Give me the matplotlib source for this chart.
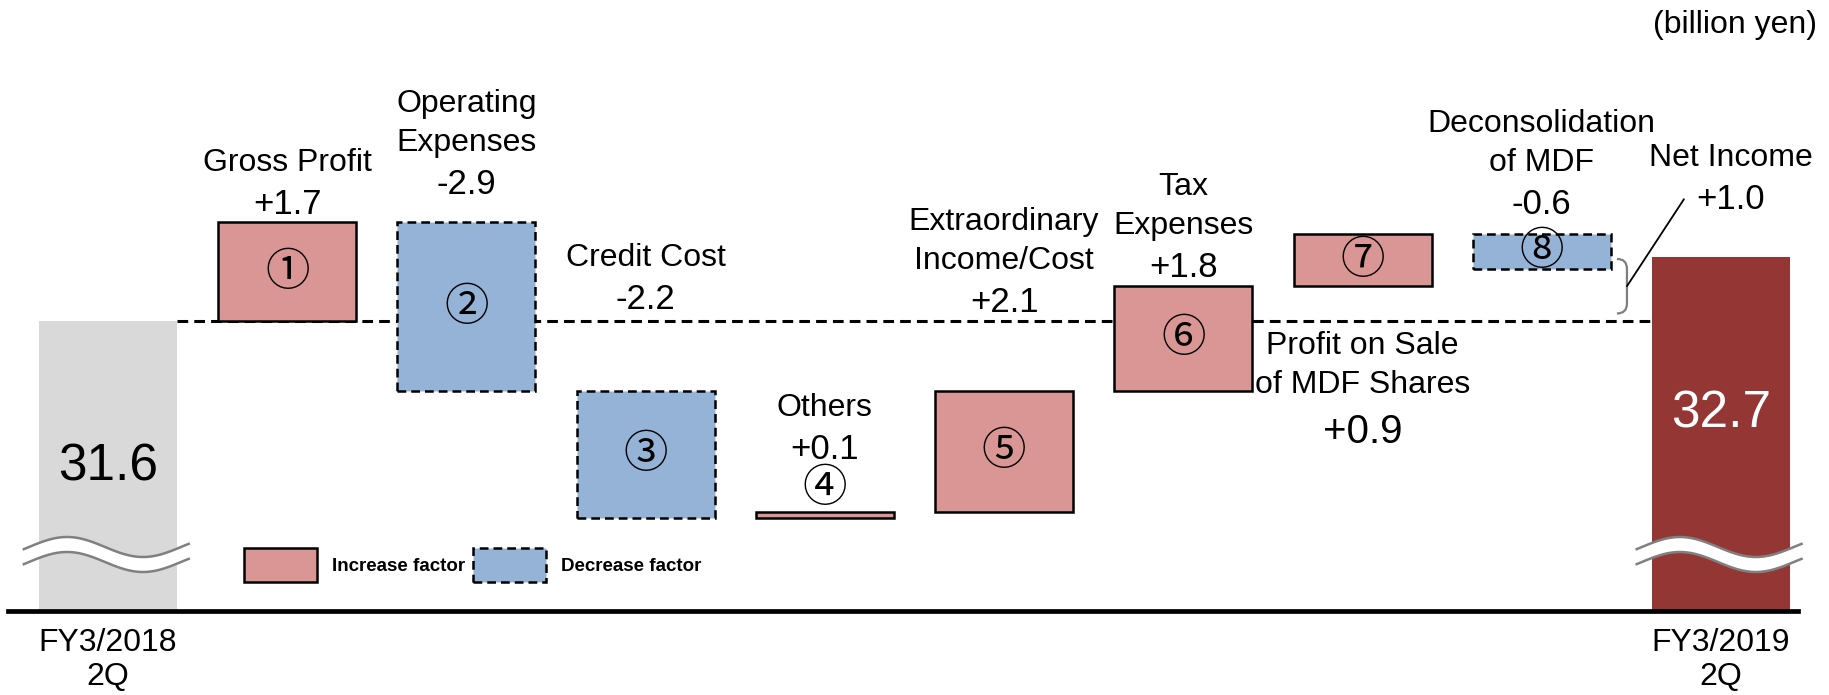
import numpy as np
import matplotlib
matplotlib.use("Agg")
import matplotlib.pyplot as plt
from matplotlib.patches import Patch, PathPatch
from matplotlib.path import Path

# data (billion yen)
start_label = "FY3/2018\n2Q"
end_label = "FY3/2019\n2Q"
start_value = 31.6
end_value = 32.7
factor_names = ["Gross Profit", "Operating\nExpenses", "Credit Cost", "Others",
                "Extraordinary\nIncome/Cost", "Tax\nExpenses",
                "Profit on Sale\nof MDF Shares", "Deconsolidation\nof MDF"]
factor_changes = [1.7, -2.9, -2.2, 0.1, 2.1, 1.8, 0.9, -0.6]
factor_marks = ["①", "②", "③", "④", "⑤", "⑥", "⑦", "⑧"]
net_income_change = 1.0
legend_labels = ["Increase factor", "Decrease factor"]

# colours / styles
INC = "#DA9694"
DEC = "#95B3D7"
START = "#D9D9D9"
END = "#943634"
DASH = (0, (3.5, 2))
PX = 0.72  # points per pixel at dpi 100

plt.rcParams["font.family"] = ["Liberation Sans", "Noto Sans CJK JP"]

fig = plt.figure(figsize=(18.29, 6.95), dpi=100)
ax = fig.add_axes([0, 84 / 695, 1, 611 / 695])

# waterfall levels
lows, highs = [], []
level = start_value
for c in factor_changes:
    new = level + c
    lows.append(min(level, new))
    highs.append(max(level, new))
    level = new
lows = np.array(lows)
highs = np.array(highs)

n = len(factor_changes)
x_f = np.arange(1, n + 1)
x_end = n + 1
w = 0.77

# baseline connector
ax.hlines(start_value, 0 + w / 2, x_end - w / 2, colors="black", lw=2.2,
          linestyles=[DASH], zorder=1)

# start / end bars
ax.bar(0, start_value, width=w, color=START, zorder=2)
ax.bar(x_end, end_value, width=w, color=END, zorder=2)

# factor bars
for i, c in enumerate(factor_changes):
    ax.bar(x_f[i], highs[i] - lows[i], bottom=lows[i], width=w,
           color=INC if c > 0 else DEC, edgecolor="black", lw=1.8,
           linestyle="-" if c > 0 else DASH, zorder=2)

# labels above / near bars
name_fs = 23
val_fs = 25
ls = 1.4
vals = [f"{c:+.1f}" for c in factor_changes]


def label(i, y, gap_px):
    ax.annotate(vals[i], xy=(x_f[i], y), xytext=(0, gap_px * PX),
                textcoords="offset points", ha="center", va="baseline",
                fontsize=val_fs, zorder=5)
    ax.annotate(factor_names[i], xy=(x_f[i], y),
                xytext=(0, (gap_px + 43) * PX), textcoords="offset points",
                ha="center", va="baseline", fontsize=name_fs, linespacing=ls,
                zorder=5)


label(0, highs[0], 8)
label(1, highs[1], 28)
label(2, start_value, 12)
label(3, highs[3], 53)
label(4, start_value, 9)
label(5, highs[5], 9)
label(7, highs[7], 20)

# profit on sale label below the connector line
ax.annotate(factor_names[6], xy=(x_f[6], start_value), xytext=(0, -10 * PX),
            textcoords="offset points", ha="center", va="top",
            fontsize=name_fs, linespacing=ls, zorder=5)
ax.annotate(vals[6], xy=(x_f[6], start_value), xytext=(0, -122 * PX),
            textcoords="offset points", ha="center", va="baseline",
            fontsize=29, zorder=5)

# circled numbers
for i, m in enumerate(factor_marks):
    if i == 3:
        ax.annotate(m, xy=(x_f[i], highs[i]), xytext=(0, 24 * PX),
                    textcoords="offset points", ha="center", va="center",
                    fontsize=32, family=["Noto Sans CJK JP"], zorder=5)
    else:
        ax.text(x_f[i], (lows[i] + highs[i]) / 2, m, ha="center", va="center",
                fontsize=32, family=["Noto Sans CJK JP"], zorder=5)

# start / end values
ax.text(0, 0.236, f"{start_value:.1f}", transform=ax.get_xaxis_transform(),
        ha="center", va="center", fontsize=37, zorder=5)
ax.text(x_end, 0.322, f"{end_value:.1f}", transform=ax.get_xaxis_transform(),
        ha="center", va="center", fontsize=37, color="white", zorder=5)

# broken axis marks
for xc in (0, x_end):
    xs = np.linspace(xc - 0.47, xc + 0.45, 120)
    py_top = 547 - 10 * np.cos(2 * np.pi * (xs - xc + 0.229) / 0.848)
    top = (611 - py_top) / 611
    bot = (611 - py_top - 15) / 611
    tr = ax.get_xaxis_transform()
    ax.fill_between(xs, bot, top, transform=tr, color="white", lw=0, zorder=3)
    ax.plot(xs, top, transform=tr, color="#808080", lw=1.8, zorder=3)
    ax.plot(xs, bot, transform=tr, color="#808080", lw=1.8, zorder=3)

# net income bracket
xl = x_end - w / 2 - 25 / 179.2
xb = xl - 10 / 179.2
y_hi = end_value - 0.03
y_lo = start_value + 0.13
ym = (y_hi + y_lo) / 2
r = 0.17
verts = [(xb, y_hi), (xl, y_hi), (xl, y_hi - r), (xl, y_lo + r),
         (xl, y_lo), (xb, y_lo)]
codes = [Path.MOVETO, Path.CURVE3, Path.CURVE3, Path.LINETO,
         Path.CURVE3, Path.CURVE3]
ax.add_patch(PathPatch(Path(verts, codes), facecolor="none",
                       edgecolor="#7f7f7f", lw=1.6, zorder=4))
ax.annotate("", xy=(xl, ym), xytext=(57 * PX, 87 * PX),
            textcoords="offset points",
            arrowprops=dict(arrowstyle="-", color="black", lw=1.3,
                            shrinkA=0, shrinkB=0), zorder=4)
ax.annotate(f"{net_income_change:+.1f}", xy=(xl, ym),
            xytext=(104 * PX, 77 * PX), textcoords="offset points",
            ha="center", va="baseline", fontsize=val_fs, zorder=5)
ax.annotate("Net Income", xy=(xl, ym),
            xytext=(104 * PX, 120 * PX), textcoords="offset points",
            ha="center", va="baseline", fontsize=name_fs, zorder=5)

fig.text(1817 / 1829, 1 - 33 / 695, "(billion yen)", ha="right",
         va="baseline", fontsize=name_fs)

# legend
handles = [Patch(facecolor=INC, edgecolor="black", lw=1.8),
           Patch(facecolor=DEC, edgecolor="black", lw=1.8, linestyle=DASH)]
fig.legend(handles, legend_labels, loc="upper left",
           bbox_to_anchor=(244 / 1829, 1 - 548 / 695), ncol=2, frameon=False,
           borderpad=0, borderaxespad=0, handlelength=3.9, handleheight=2.4,
           handletextpad=0.8, columnspacing=0.4,
           prop=dict(family="Liberation Sans", weight="bold", size=13.5))

# axes
ax.set_xlim(-0.603, 9.603)
ax.set_ylim(start_value - 290 / 58, start_value + 321 / 58)
for s in ("left", "right", "top"):
    ax.spines[s].set_visible(False)
ax.spines["bottom"].set_linewidth(3.4)
ax.spines["bottom"].set_bounds(-0.558, 9.431)
ax.set_yticks([])
ax.set_xticks([0, x_end])
ax.set_xticklabels([start_label, end_label], fontsize=name_fs, linespacing=1.2)
ax.tick_params(axis="x", length=0, pad=12)

fig.savefig("out.png", dpi=100)
